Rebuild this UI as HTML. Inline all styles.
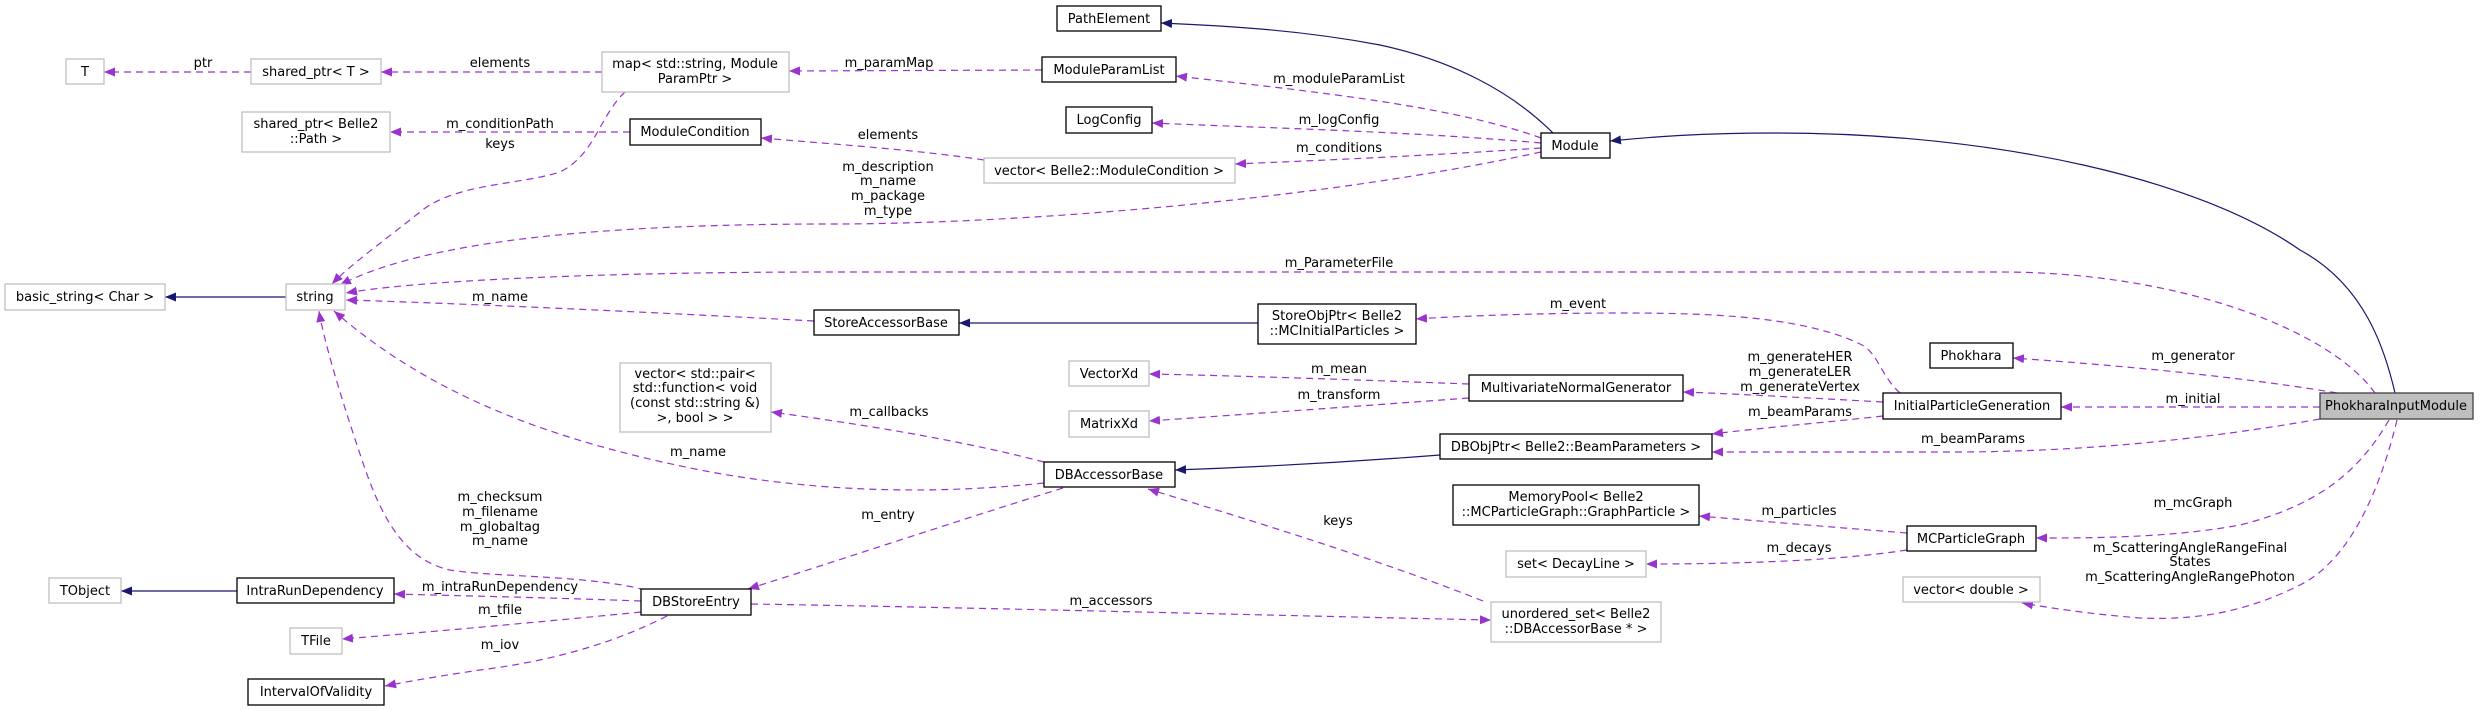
<!DOCTYPE html>
<html><head><meta charset="utf-8"><style>
html,body{margin:0;padding:0;background:#fff;}
svg{display:block;}
text{font-family:"DejaVu Sans","Liberation Sans",sans-serif;font-size:13px;fill:#000;}
.n{fill:#fff;stroke:#000;stroke-width:1.3;}
.g{fill:#fff;stroke:#bfbfbf;stroke-width:1.3;}
.d{fill:none;stroke:#9a32cd;stroke-width:1.2;stroke-dasharray:7,5;}
.s{fill:none;stroke:#191970;stroke-width:1.2;}
</style></head><body>
<svg width="2488" height="711" viewBox="0 0 2488 711" xmlns="http://www.w3.org/2000/svg">
<defs>
<marker id="ap" markerWidth="12" markerHeight="9" refX="11" refY="4.5" orient="auto" markerUnits="userSpaceOnUse"><path d="M0,0 L11,4.5 L0,9 z" fill="#9a32cd"/></marker>
<marker id="an" markerWidth="12" markerHeight="9" refX="11" refY="4.5" orient="auto" markerUnits="userSpaceOnUse"><path d="M0,0 L11,4.5 L0,9 z" fill="#191970"/></marker>
</defs>

<!-- edges -->
<path class="s" marker-end="url(#an)" d="M286,297 L165,297"/>
<path class="d" marker-end="url(#ap)" d="M251,72 L104,72"/>
<path class="d" marker-end="url(#ap)" d="M602,72 L381,72"/>
<path class="d" marker-end="url(#ap)" d="M1042,70 L789,71"/>
<path class="d" marker-end="url(#ap)" d="M625,92 C600,115 595,155 560,172 C520,185 455,183 420,212 C385,240 350,265 332,284"/>
<path class="d" marker-end="url(#ap)" d="M630,132 L390,132"/>
<path class="d" marker-end="url(#ap)" d="M984,160 C920,150 820,143 761,138"/>
<path class="d" marker-end="url(#ap)" d="M1541,138 C1450,105 1300,90 1176,76"/>
<path class="d" marker-end="url(#ap)" d="M1541,143 C1420,132 1270,128 1152,123"/>
<path class="d" marker-end="url(#ap)" d="M1541,148 C1440,155 1330,160 1235,164"/>
<path class="d" marker-end="url(#ap)" d="M1541,152 C1320,200 1020,224 830,224 C620,224 430,238 340,285"/>
<path class="d" marker-end="url(#ap)" d="M2375,393 C2330,330 2180,272 2000,272 L830,272 C610,272 420,280 346,293"/>
<path class="d" marker-end="url(#ap)" d="M814,321 C650,312 450,303 346,300"/>
<path class="s" marker-end="url(#an)" d="M1258,323 L959,323"/>
<path class="d" marker-end="url(#ap)" d="M1900,393 C1880,375 1878,352 1860,344 C1800,315 1700,313 1620,313 C1540,313 1460,316 1416,319"/>
<path class="d" marker-end="url(#ap)" d="M1883,402 C1810,398 1740,394 1683,392"/>
<path class="d" marker-end="url(#ap)" d="M1883,416 C1830,422 1760,428 1712,434"/>
<path class="d" marker-end="url(#ap)" d="M2320,419 C2200,440 2080,452 1950,452 C1860,452 1770,452 1712,452"/>
<path class="d" marker-end="url(#ap)" d="M1469,384 C1360,380 1250,376 1149,374"/>
<path class="d" marker-end="url(#ap)" d="M1469,398 C1360,406 1250,414 1149,421"/>
<path class="s" marker-end="url(#an)" d="M1440,455 C1350,462 1260,467 1175,470"/>
<path class="d" marker-end="url(#ap)" d="M1044,462 C960,440 860,424 771,412"/>
<path class="d" marker-end="url(#ap)" d="M1044,483 C950,493 830,495 700,470 C550,440 430,395 334,311"/>
<path class="d" marker-end="url(#ap)" d="M645,590 C590,575 490,577 450,570 C405,560 382,520 362,460 C335,380 323,335 319,311"/>
<path class="d" marker-end="url(#ap)" d="M1063,488 C960,520 840,560 748,589"/>
<path class="d" marker-end="url(#ap)" d="M1483,601 C1380,560 1250,520 1148,489"/>
<path class="d" marker-end="url(#ap)" d="M751,604 C1000,608 1250,615 1491,620"/>
<path class="d" marker-end="url(#ap)" d="M641,601 C560,598 470,596 394,594"/>
<path class="d" marker-end="url(#ap)" d="M641,612 C540,622 430,632 342,639"/>
<path class="d" marker-end="url(#ap)" d="M667,616 C620,640 560,660 480,670 C440,676 410,681 385,686"/>
<path class="s" marker-end="url(#an)" d="M237,591 L121,591"/>
<path class="s" marker-end="url(#an)" d="M1553,133 C1510,90 1450,60 1380,45 C1300,30 1230,26 1161,23"/>
<path class="s" marker-end="url(#an)" d="M2395,393 C2385,350 2365,285 2300,250 C2200,180 2000,133 1775,133 C1700,133 1650,137 1610,141"/>
<path class="d" marker-end="url(#ap)" d="M2337,393 C2230,375 2100,364 2013,358"/>
<path class="d" marker-end="url(#ap)" d="M2320,407 L2061,407"/>
<path class="d" marker-end="url(#ap)" d="M2389,420 C2360,470 2320,505 2240,525 C2170,538 2090,538 2036,538"/>
<path class="d" marker-end="url(#ap)" d="M2397,420 C2380,490 2350,560 2300,585 C2240,615 2190,620 2140,618 C2090,614 2050,608 2022,603"/>
<path class="d" marker-end="url(#ap)" d="M1907,533 C1830,527 1760,521 1699,516"/>
<path class="d" marker-end="url(#ap)" d="M1907,550 C1830,562 1720,564 1646,564"/>

<!-- nodes -->
<rect class="g" x="66" y="59" width="38" height="25"/><text x="85" y="76" text-anchor="middle">T</text>
<rect class="g" x="251" y="59" width="130" height="25"/><text x="316" y="76" text-anchor="middle">shared_ptr&lt; T &gt;</text>
<rect class="g" x="602" y="52" width="187" height="40"/><text x="695" y="68" text-anchor="middle">map&lt; std::string, Module</text><text x="695" y="83" text-anchor="middle">ParamPtr &gt;</text>
<rect class="g" x="242" y="112" width="148" height="40"/><text x="316" y="128" text-anchor="middle">shared_ptr&lt; Belle2</text><text x="316" y="143" text-anchor="middle">::Path &gt;</text>
<rect class="n" x="630" y="119" width="131" height="26"/><text x="695" y="136" text-anchor="middle">ModuleCondition</text>
<rect class="g" x="5" y="284" width="160" height="26"/><text x="85" y="301" text-anchor="middle">basic_string&lt; Char &gt;</text>
<rect class="g" x="286" y="284" width="59" height="26"/><text x="315" y="301" text-anchor="middle">string</text>
<rect class="g" x="620" y="363" width="151" height="69"/><text x="695" y="378" text-anchor="middle">vector&lt; std::pair&lt;</text><text x="695" y="392" text-anchor="middle">std::function&lt; void</text><text x="695" y="407" text-anchor="middle">(const std::string &amp;)</text><text x="695" y="422" text-anchor="middle">&gt;, bool &gt; &gt;</text>
<rect class="g" x="49" y="578" width="72" height="25"/><text x="85" y="595" text-anchor="middle">TObject</text>
<rect class="n" x="237" y="578" width="157" height="25"/><text x="315" y="595" text-anchor="middle">IntraRunDependency</text>
<rect class="n" x="641" y="589" width="110" height="26"/><text x="696" y="606" text-anchor="middle">DBStoreEntry</text>
<rect class="g" x="290" y="628" width="52" height="26"/><text x="316" y="645" text-anchor="middle">TFile</text>
<rect class="n" x="248" y="679" width="136" height="26"/><text x="316" y="696" text-anchor="middle">IntervalOfValidity</text>
<rect class="n" x="1057" y="6" width="104" height="25"/><text x="1109" y="23" text-anchor="middle">PathElement</text>
<rect class="n" x="1042" y="57" width="134" height="25"/><text x="1109" y="74" text-anchor="middle">ModuleParamList</text>
<rect class="n" x="1066" y="107" width="86" height="26"/><text x="1109" y="124" text-anchor="middle">LogConfig</text>
<rect class="g" x="984" y="158" width="251" height="25"/><text x="1109" y="175" text-anchor="middle">vector&lt; Belle2::ModuleCondition &gt;</text>
<rect class="n" x="1541" y="133" width="69" height="25"/><text x="1575" y="150" text-anchor="middle">Module</text>
<rect class="n" x="814" y="310" width="145" height="25"/><text x="886" y="327" text-anchor="middle">StoreAccessorBase</text>
<rect class="n" x="1258" y="304" width="158" height="40"/><text x="1337" y="320" text-anchor="middle">StoreObjPtr&lt; Belle2</text><text x="1337" y="335" text-anchor="middle">::MCInitialParticles &gt;</text>
<rect class="g" x="1069" y="361" width="80" height="25"/><text x="1109" y="378" text-anchor="middle">VectorXd</text>
<rect class="g" x="1069" y="411" width="80" height="26"/><text x="1109" y="428" text-anchor="middle">MatrixXd</text>
<rect class="n" x="1469" y="375" width="214" height="26"/><text x="1576" y="392" text-anchor="middle">MultivariateNormalGenerator</text>
<rect class="n" x="1440" y="434" width="272" height="25"/><text x="1576" y="451" text-anchor="middle">DBObjPtr&lt; Belle2::BeamParameters &gt;</text>
<rect class="n" x="1044" y="462" width="131" height="25"/><text x="1109" y="479" text-anchor="middle">DBAccessorBase</text>
<rect class="n" x="1453" y="485" width="246" height="40"/><text x="1576" y="501" text-anchor="middle">MemoryPool&lt; Belle2</text><text x="1576" y="516" text-anchor="middle">::MCParticleGraph::GraphParticle &gt;</text>
<rect class="g" x="1506" y="551" width="140" height="26"/><text x="1576" y="568" text-anchor="middle">set&lt; DecayLine &gt;</text>
<rect class="g" x="1491" y="602" width="170" height="40"/><text x="1576" y="618" text-anchor="middle">unordered_set&lt; Belle2</text><text x="1576" y="633" text-anchor="middle">::DBAccessorBase * &gt;</text>
<rect class="n" x="1930" y="343" width="83" height="25"/><text x="1971" y="360" text-anchor="middle">Phokhara</text>
<rect class="n" x="1883" y="393" width="178" height="26"/><text x="1972" y="410" text-anchor="middle">InitialParticleGeneration</text>
<rect x="2320" y="393" width="153" height="26" fill="#bfbfbf" stroke="#404040" stroke-width="1.3"/><text x="2396" y="410" text-anchor="middle">PhokharaInputModule</text>
<rect class="n" x="1907" y="526" width="129" height="25"/><text x="1971" y="543" text-anchor="middle">MCParticleGraph</text>
<rect class="g" x="1903" y="577" width="137" height="25"/><text x="1971" y="594" text-anchor="middle">vector&lt; double &gt;</text>

<!-- labels -->
<g text-anchor="middle">
<text x="203" y="67">ptr</text>
<text x="500" y="67">elements</text>
<text x="500" y="128">m_conditionPath</text>
<text x="500" y="148">keys</text>
<text x="500" y="301">m_name</text>
<text x="889" y="67">m_paramMap</text>
<text x="888" y="139">elements</text>
<text x="888" y="171">m_description</text>
<text x="888" y="185">m_name</text>
<text x="888" y="200">m_package</text>
<text x="888" y="215">m_type</text>
<text x="1339" y="83">m_moduleParamList</text>
<text x="1339" y="124">m_logConfig</text>
<text x="1339" y="152">m_conditions</text>
<text x="1339" y="267">m_ParameterFile</text>
<text x="1578" y="308">m_event</text>
<text x="1339" y="373">m_mean</text>
<text x="1339" y="399">m_transform</text>
<text x="889" y="416">m_callbacks</text>
<text x="698" y="456">m_name</text>
<text x="888" y="519">m_entry</text>
<text x="1338" y="525">keys</text>
<text x="1111" y="605">m_accessors</text>
<text x="500" y="501">m_checksum</text>
<text x="500" y="516">m_filename</text>
<text x="500" y="531">m_globaltag</text>
<text x="500" y="545">m_name</text>
<text x="500" y="591">m_intraRunDependency</text>
<text x="500" y="614">m_tfile</text>
<text x="500" y="649">m_iov</text>
<text x="1800" y="361">m_generateHER</text>
<text x="1800" y="376">m_generateLER</text>
<text x="1800" y="391">m_generateVertex</text>
<text x="1800" y="416">m_beamParams</text>
<text x="2193" y="360">m_generator</text>
<text x="2193" y="403">m_initial</text>
<text x="1973" y="443">m_beamParams</text>
<text x="2193" y="507">m_mcGraph</text>
<text x="1799" y="515">m_particles</text>
<text x="1799" y="552">m_decays</text>
<text x="2190" y="552">m_ScatteringAngleRangeFinal</text>
<text x="2190" y="566">States</text>
<text x="2190" y="581">m_ScatteringAngleRangePhoton</text>
</g>
</svg>
</body></html>
